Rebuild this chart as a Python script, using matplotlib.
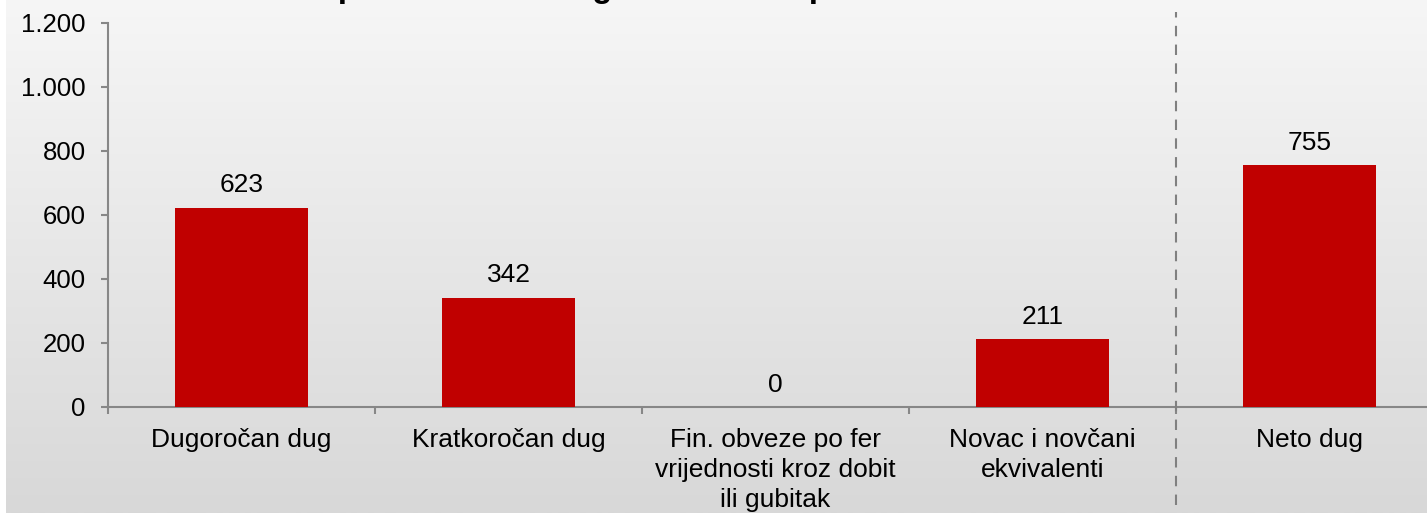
import numpy as np
import matplotlib
matplotlib.use('Agg')
import matplotlib.pyplot as plt
from matplotlib.colors import LinearSegmentedColormap

# ---------- data ----------
categories = ['Dugoročan dug', 'Kratkoročan dug',
              'Fin. obveze po fer\nvrijednosti kroz dobit\nili gubitak',
              'Novac i novčani\nekvivalenti', 'Neto dug']
values = [623, 342, 0, 211, 755]
value_labels = ['623', '342', '0', '211', '755']
y_ticks = [0, 200, 400, 600, 800, 1000, 1200]
y_tick_labels = ['0', '200', '400', '600', '800', '1.000', '1.200']
title = 'Komponente neto duga na dan 31. prosinca 2016.'


def main():
    plt.rcParams['font.family'] = ['Liberation Sans', 'DejaVu Sans']
    W, H = 1427, 514
    fig = plt.figure(figsize=(W / 100, H / 100), dpi=100)

    # ---------- background gradient ----------
    bg = fig.add_axes([6 / W, 1 / H, 1, 1])
    cmap = LinearSegmentedColormap.from_list('bg', ['#f6f6f6', '#d8d8d8'])
    grad = np.linspace(0, 1, 256).reshape(-1, 1)
    bg.imshow(grad, aspect='auto', cmap=cmap, extent=[0, 1, 0, 1], origin='upper')
    bg.axis('off')

    # ---------- bars ----------
    ax = fig.add_axes([108 / W, 107 / H, 5 * 267 / W, 384 / H])
    ax.set_facecolor('none')
    x = np.arange(len(categories))
    ax.bar(x, values, width=0.5, color='#c00000', zorder=3)
    for xi, v, lab in zip(x, values, value_labels):
        ax.annotate(lab, (xi, v), xytext=(0, 16), textcoords='offset points',
                    ha='center', va='center', fontsize=19, color='black')

    ax.set_xlim(-0.5, 4.5)
    ax.set_ylim(0, 1200)

    axis_col = '#878787'
    for side in ['top', 'right']:
        ax.spines[side].set_visible(False)
    for side in ['left', 'bottom']:
        ax.spines[side].set_color(axis_col)
        ax.spines[side].set_linewidth(1.5)

    ax.set_yticks(y_ticks)
    ax.set_yticklabels(y_tick_labels)
    ax.tick_params(axis='y', length=5, width=1.5, color=axis_col, pad=11, labelsize=18.5)

    ax.set_xticks(x)
    ax.set_xticklabels(categories, linespacing=1.33)
    ax.set_xticks([-0.5, 0.5, 1.5, 2.5, 3.5], minor=True)
    ax.tick_params(axis='x', which='major', length=0, pad=15, labelsize=19)
    ax.tick_params(axis='x', which='minor', length=5, width=1.5, color=axis_col)

    # separator before Neto dug
    ax.axvline(3.5, ymin=-0.255, ymax=1.029, clip_on=False, color='#808080',
               lw=1.5, linestyle=(0, (5, 4)), zorder=4)

    # title (mostly cut off above the picture)
    fig.text(265 / W, 1 + 3 / H, title, ha='left', va='baseline',
             fontsize=23.6, fontweight='bold', color='black')

    fig.savefig('out.png', dpi=100)
    plt.close(fig)


if __name__ == '__main__':
    main()
